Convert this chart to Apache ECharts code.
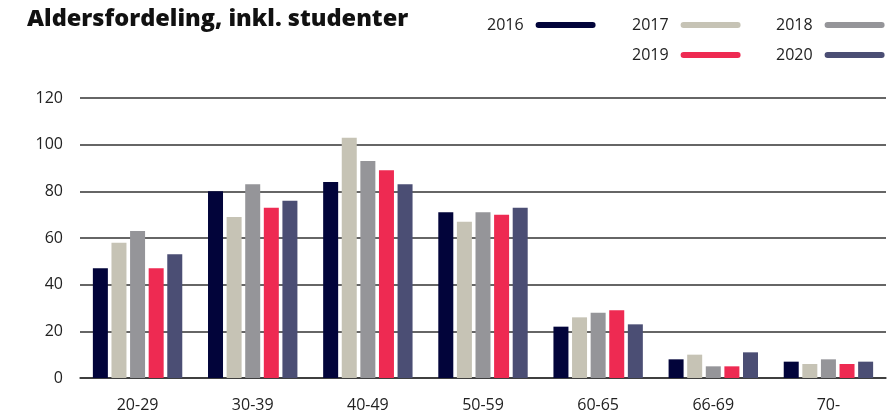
<!DOCTYPE html>
<html style="height:100%;">
<head>
	<meta charset="utf-8" />
	<title>Aldersfordeling, inkl. studenter</title>
	<script type="text/javascript" src="https://cdn.jsdelivr.net/npm/echarts@6/dist/echarts.min.js"></script>
</head>
<body style="margin:0;padding:0;height:100%;background:#fff;">
	<div id="chart" style="width:895px;height:416px;"></div>
	<script type="text/javascript">
		const categories = ['20-29', '30-39', '40-49', '50-59', '60-65', '66-69', '70-'];
		const years = ['2016', '2017', '2018', '2019', '2020'];
		const colors = ['#02043a', '#c6c3b5', '#959599', '#ee2a52', '#4b4e74'];
		const v2016 = [47, 80, 84, 71, 22, 8, 7];
		const v2017 = [58, 69, 103, 67, 26, 10, 6];
		const v2018 = [63, 83, 93, 71, 28, 5, 8];
		const v2019 = [47, 73, 89, 70, 29, 5, 6];
		const v2020 = [53, 76, 83, 73, 23, 11, 7];
		const yTicks = [0, 20, 40, 60, 80, 100, 120];

		const values = [v2016, v2017, v2018, v2019, v2020];
		const font = 'Open Sans';
		// pill shaped legend line
		const pill = 'path://M3,0 L57,0 A3,3 0 0 1 57,6 L3,6 A3,3 0 0 1 3,0 Z';
		// legend spot for each year (two rows, three columns)
		const legendPos = [[487, 17], [632, 17], [776, 17], [632, 47], [776, 47]];

		const chart = echarts.init(document.getElementById('chart'));
		chart.setOption({
			animation: false,
			title: {
				text: 'Aldersfordeling, inkl. studenter',
				left: 22,
				top: 2,
				textStyle: { fontFamily: font, fontSize: 23.5, fontWeight: 800, color: '#111' }
			},
			legend: years.map(function (y, i) {
				return {
					data: [y],
					left: legendPos[i][0],
					top: legendPos[i][1],
					padding: 0,
					align: 'right',
					icon: pill,
					itemWidth: 60,
					itemHeight: 6,
					textStyle: { fontFamily: font, fontSize: 16, color: '#222', padding: [0, 7, 0, 0] }
				};
			}),
			grid: { left: 80, right: 9, top: 98, bottom: 38 },
			xAxis: {
				type: 'category',
				data: categories,
				axisLine: { show: true, lineStyle: { color: '#333', width: 1.5 } },
				axisTick: { show: false },
				axisLabel: { fontFamily: font, fontSize: 16, color: '#222', margin: 19 }
			},
			yAxis: {
				type: 'value',
				min: yTicks[0],
				max: yTicks[yTicks.length - 1],
				interval: 20,
				axisLine: { show: false },
				axisTick: { show: false },
				axisLabel: { fontFamily: font, fontSize: 16, color: '#222', margin: 17 },
				splitLine: { lineStyle: { color: '#333', width: 1.5 } }
			},
			series: years.map(function (y, i) {
				return {
					name: y,
					type: 'bar',
					data: values[i],
					barWidth: 15,
					barGap: '24%',
					itemStyle: { color: colors[i] }
				};
			})
		});
	</script>
</body>
</html>
